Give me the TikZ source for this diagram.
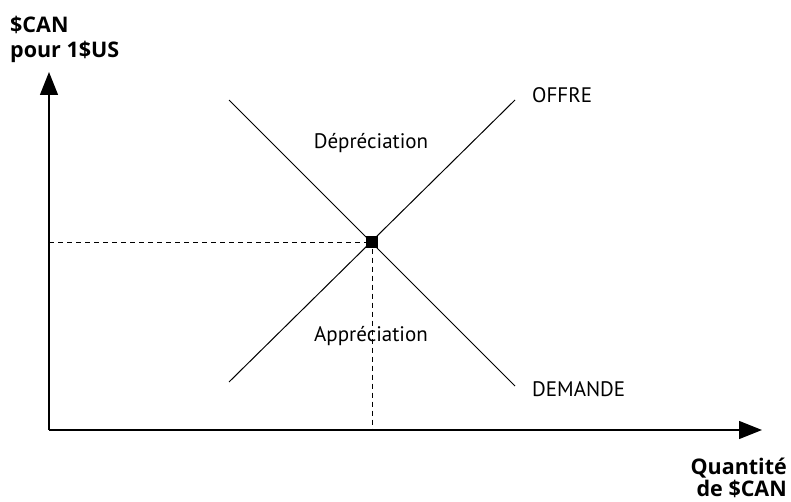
\documentclass[tikz,border=0pt]{standalone}
\usepackage{fontspec}
\setmainfont{PT Sans}
\newfontfamily\boldlabelfont{Open Sans}
\usetikzlibrary{arrows.meta}
\tikzset{
  axis/.style={line width=1.4pt,-{Triangle[length=23pt,width=18pt]}},
  curve/.style={line width=1pt},
  guide/.style={line width=1pt,dash pattern=on 5pt off 4pt},
  lbl/.style={font=\fontsize{21}{25}\selectfont, inner sep=0pt},
  axlbl/.style={font=\boldlabelfont\bfseries\fontsize{21.5}{26}\selectfont, inner sep=0pt}
}
\begin{document}
\begin{tikzpicture}[x=1pt,y=-1pt]
\useasboundingbox (0,0) rectangle (791,502);
\coordinate (O) at (49,430);
\coordinate (ytop) at (49,72);
\coordinate (xend) at (762,430);
\draw[axis] (O) -- (ytop);
\draw[axis] (O) -- (xend);
\coordinate (s1) at (229,382);
\coordinate (s2) at (515,100);
\coordinate (d1) at (229,100);
\coordinate (d2) at (515,386);
\draw[curve] (s1) -- (s2);
\draw[curve] (d1) -- (d2);
\node[fill=black, minimum size=12pt, inner sep=0pt] (eq) at (372,242.5) {};
\coordinate (yeq) at (49,242.5);
\coordinate (xeq) at (372,430);
\draw[guide] (yeq) -- (eq.west);
\draw[guide] (eq.south) -- (xeq);
\node[lbl, anchor=base west] (offre) at (532,103) {OFFRE};
\node[lbl, anchor=base west] (demande) at (532,396) {DEMANDE};
\node[lbl, anchor=base] (dep) at (371,149) {Dépréciation};
\node[lbl, anchor=base] (app) at (371,341) {Appréciation};
\node[axlbl, anchor=base west] (can1) at (10,33) {\$CAN};
\node[axlbl, anchor=base west] (can2) at (10,58) {pour 1\$US};
\node[axlbl, anchor=base east] (q1) at (787,474) {Quantité};
\node[axlbl, anchor=base east] (q2) at (787,496) {de \$CAN};
\end{tikzpicture}
\end{document}
